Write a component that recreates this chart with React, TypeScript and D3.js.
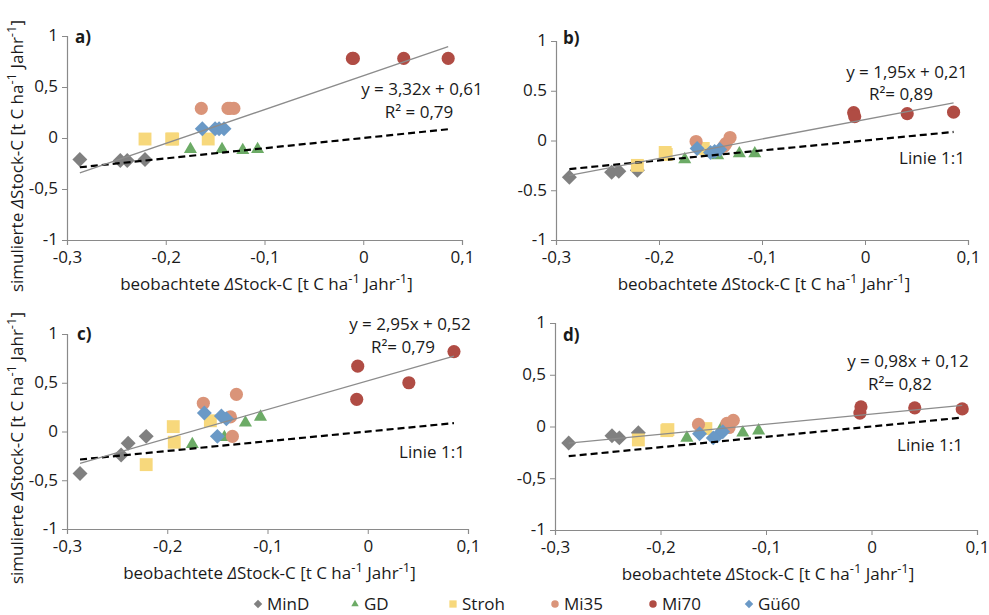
import { useEffect, useRef } from "react";
import * as d3 from "d3";

// series (order as in legend)
const seriesNames = ["MinD", "GD", "Stroh", "Mi35", "Mi70", "Gü60"];
const seriesColors = ["#808080", "#6cab66", "#f7d87c", "#da9479", "#b04c44", "#6a99c6"];
const seriesShapes = ["diamond", "triangle", "square", "circle", "circle", "diamond"];

// beobachtete ΔStock-C (x), same for all four panels
const obsMinD = [-0.287, -0.246, -0.239, -0.221];
const obsGD = [-0.175, -0.143, -0.122, -0.107];
const obsStroh = [-0.221, -0.194, -0.193, -0.157];
const obsMi35 = [-0.164, -0.137, -0.135, -0.131];
const obsMi70 = [-0.011, -0.01, 0.041, 0.086];
const obsGue60 = [-0.163, -0.15, -0.146, -0.141];
const observed = [obsMinD, obsGD, obsStroh, obsMi35, obsMi70, obsGue60];

// simulierte ΔStock-C (y), per panel, one row per series
const simA = [
  [-0.21, -0.22, -0.22, -0.21],
  [-0.11, -0.11, -0.12, -0.11],
  [-0.01, -0.01, -0.01, -0.01],
  [0.29, 0.29, 0.29, 0.29],
  [0.78, 0.78, 0.78, 0.78],
  [0.09, 0.09, 0.09, 0.09],
];
const simB = [
  [-0.37, -0.32, -0.31, -0.3],
  [-0.19, -0.15, -0.13, -0.13],
  [-0.25, -0.12, -0.14, -0.08],
  [-0.01, -0.06, -0.03, 0.03],
  [0.28, 0.24, 0.27, 0.285],
  [-0.08, -0.12, -0.11, -0.09],
];
const simC = [
  [-0.43, -0.24, -0.12, -0.05],
  [-0.13, -0.06, 0.09, 0.15],
  [-0.34, 0.05, -0.11, 0.11],
  [0.29, 0.15, -0.05, 0.38],
  [0.33, 0.67, 0.5, 0.82],
  [0.19, -0.05, 0.16, 0.13],
];
const simD = [
  [-0.16, -0.09, -0.11, -0.06],
  [-0.11, -0.03, -0.06, -0.04],
  [-0.13, -0.04, -0.03, -0.02],
  [0.02, 0.03, -0.01, 0.06],
  [0.13, 0.19, 0.18, 0.17],
  [-0.07, -0.11, -0.09, -0.05],
];
const simulated = [simA, simB, simC, simD];

const panelLabels = ["a)", "b)", "c)", "d)"];
const fitSlope = [3.32, 1.95, 2.95, 0.98];
const fitIntercept = [0.61, 0.21, 0.52, 0.12];
const eqLabels = ["y = 3,32x + 0,61", "y = 1,95x + 0,21", "y = 2,95x + 0,52", "y = 0,98x + 0,12"];
const r2Labels = ["R² = 0,79", "R²= 0,89", "R²= 0,79", "R²= 0,82"];
const showLinie = [false, true, true, true];

const xTicks = [-0.3, -0.2, -0.1, 0, 0.1];
const yTicks = [-1, -0.5, 0, 0.5, 1];

const font = "'Open Sans', sans-serif";
const fs = 17;

// plot boxes and label spots
const layout = [
  { x0: 67, x1: 462, y0: 36, y1: 240, lab: [75, 43], eq: [422, 95], r2: [419, 118], lin: null, yTitle: 156 },
  { x0: 556, x1: 968, y0: 41, y1: 240, lab: [563, 44], eq: [907, 78], r2: [901, 100], lin: [932, 164], yTitle: null },
  { x0: 67, x1: 468, y0: 334, y1: 529, lab: [77, 340], eq: [410, 330], r2: [403, 353], lin: [432, 458], yTitle: 448 },
  { x0: 555, x1: 977, y0: 323, y1: 530, lab: [563, 341], eq: [908, 367], r2: [900, 390], lin: [930, 451], yTitle: null },
];
const legendX = [258, 355, 453, 555, 653, 749];

function symbolPath(shape: string, big: boolean) {
  const s = big ? 1 : 0.32;
  if (shape === "diamond") return d3.symbol().type(d3.symbolSquare).size(112 * s)();
  if (shape === "triangle") return d3.symbol().type(d3.symbolTriangle).size(74 * s)();
  if (shape === "square") return d3.symbol().type(d3.symbolSquare).size(166 * s)();
  return d3.symbol().type(d3.symbolCircle).size(136 * s)();
}

function unitTitle(sel: any, lead: string) {
  sel.append("tspan").text(lead);
  sel.append("tspan").attr("font-style", "italic").text("Δ");
  sel.append("tspan").text("Stock-C [t C ha");
  sel.append("tspan").attr("dy", -7).attr("font-size", 13).text("-1");
  sel.append("tspan").attr("dy", 7).text(" Jahr");
  sel.append("tspan").attr("dy", -7).attr("font-size", 13).text("-1");
  sel.append("tspan").attr("dy", 7).text("]");
}

export default function App() {
  const svgRef = useRef<SVGSVGElement>(null);

  useEffect(() => {
    const svg = d3.select(svgRef.current);
    svg.selectAll("*").remove();

    layout.forEach((p, i) => {
      const x = d3.scaleLinear().domain([-0.3, 0.1]).range([p.x0, p.x1]);
      const y = d3.scaleLinear().domain([-1, 1]).range([p.y1, p.y0]);
      const fmt = (d: number) => (i === 1 ? String(d) : String(d).replace(".", ","));
      const g = svg.append("g");

      const xa = g
        .append("g")
        .attr("transform", `translate(0,${p.y1})`)
        .call(d3.axisBottom(x).tickValues(xTicks).tickSize(5).tickPadding(6).tickFormat((d: any) => String(d).replace(".", ",")));
      const ya = g
        .append("g")
        .attr("transform", `translate(${p.x0},0)`)
        .call(d3.axisLeft(y).tickValues(yTicks).tickSize(5).tickPadding(4).tickFormat((d: any) => fmt(d)));
      [xa, ya].forEach((a) => {
        a.attr("font-family", font).attr("font-size", fs).style("color", "#8a8a8a");
        a.selectAll("text").attr("fill", "#1a1a1a");
        a.select(".domain").attr("stroke-width", 1.2);
      });
      ya.selectAll("text").attr("dy", "0.28em");

      // markers
      seriesNames.forEach((name, s) => {
        g.append("g")
          .selectAll("path")
          .data(observed[s].map((ox, k) => [ox, simulated[i][s][k]]))
          .join("path")
          .attr("d", symbolPath(seriesShapes[s], true))
          .attr("transform", (d) => `translate(${x(d[0])},${y(d[1])})${seriesShapes[s] === "diamond" ? " rotate(45)" : ""}`)
          .attr("fill", seriesColors[s]);
      });

      const allX = observed.flat();
      const ext = d3.extent(allX) as [number, number];

      // Linie 1:1
      g.append("line")
        .attr("x1", x(ext[0]))
        .attr("y1", y(ext[0]))
        .attr("x2", x(ext[1]))
        .attr("y2", y(ext[1]))
        .attr("stroke", "#000")
        .attr("stroke-width", 2.2)
        .attr("stroke-dasharray", "7,4");

      // trendline
      const fit = (v: number) => fitSlope[i] * v + fitIntercept[i];
      g.append("line")
        .attr("x1", x(ext[0]))
        .attr("y1", y(fit(ext[0])))
        .attr("x2", x(ext[1]))
        .attr("y2", y(fit(ext[1])))
        .attr("stroke", "#8c8c8c")
        .attr("stroke-width", 1.3);

      const txt = (t: string, pos: number[]) =>
        g
          .append("text")
          .attr("x", pos[0])
          .attr("y", pos[1])
          .attr("font-family", font)
          .attr("font-size", fs)
          .attr("fill", "#1a1a1a")
          .attr("text-anchor", "middle")
          .text(t);

      txt(eqLabels[i], p.eq);
      txt(r2Labels[i], p.r2);
      if (showLinie[i] && p.lin) txt("Linie 1:1", p.lin);
      txt(panelLabels[i], p.lab).attr("text-anchor", "start").attr("font-weight", "bold");

      // axis titles
      const xt = g
        .append("text")
        .attr("x", (p.x0 + p.x1) / 2 + 2)
        .attr("y", p.y1 + 50)
        .attr("font-family", font)
        .attr("font-size", fs)
        .attr("fill", "#1a1a1a")
        .attr("text-anchor", "middle");
      unitTitle(xt, "beobachtete ");

      if (p.yTitle !== null) {
        const yt = g
          .append("text")
          .attr("transform", `translate(23,${p.yTitle}) rotate(-90)`)
          .attr("font-family", font)
          .attr("font-size", fs)
          .attr("fill", "#1a1a1a")
          .attr("text-anchor", "middle");
        unitTitle(yt, "simulierte ");
      }
    });

    // legend
    const lg = svg.append("g");
    seriesNames.forEach((name, s) => {
      lg.append("path")
        .attr("d", symbolPath(seriesShapes[s], false))
        .attr("transform", `translate(${legendX[s]},604)${seriesShapes[s] === "diamond" ? " rotate(45)" : ""}`)
        .attr("fill", seriesColors[s]);
      lg.append("text")
        .attr("x", legendX[s] + 9)
        .attr("y", 610)
        .attr("font-family", font)
        .attr("font-size", fs)
        .attr("fill", "#1a1a1a")
        .text(name);
    });
  }, []);

  return (
    <svg
      ref={svgRef}
      width={989}
      height={615}
      style={{ position: "absolute", left: 0, top: 0, background: "#fff" }}
    ></svg>
  );
}
